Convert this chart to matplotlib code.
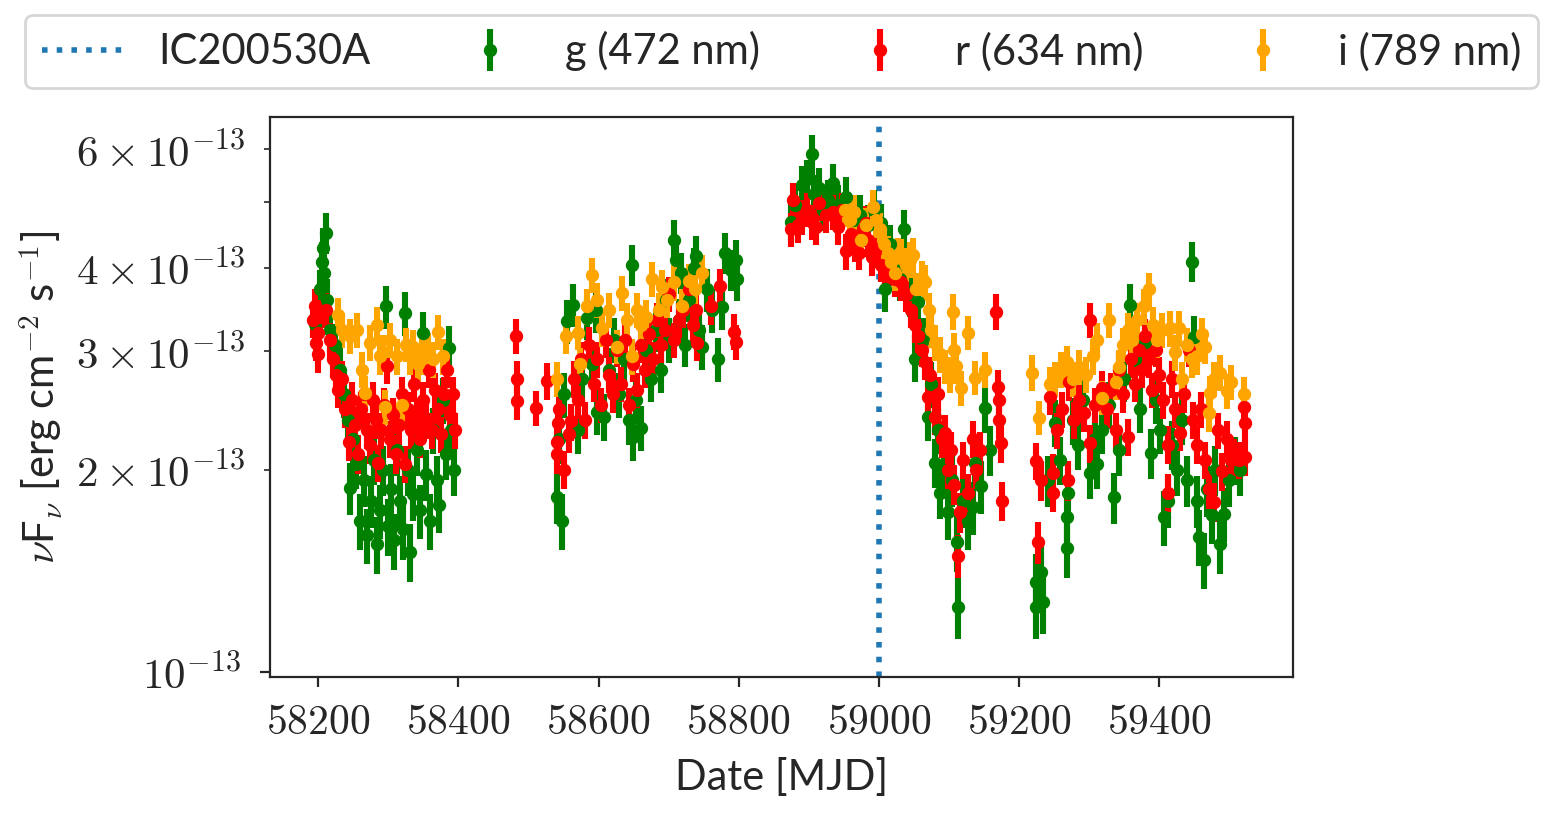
import numpy as np
import matplotlib
matplotlib.use("Agg")
import matplotlib.pyplot as plt
from matplotlib.ticker import FuncFormatter, FixedLocator
import seaborn as sns

# (MJD, nuFnu [1e-13 erg/cm2/s], error)
g_data = [
    (58196, 3.30, 0.24), (58203, 3.71, 0.26), (58206, 4.08, 0.28), (58207, 4.28, 0.30),
    (58211, 4.51, 0.32), (58208, 3.93, 0.28), (58213, 3.58, 0.26), (58217, 3.23, 0.24),
    (58224, 3.07, 0.23), (58231, 2.82, 0.22), (58236, 2.59, 0.20), (58243, 2.37, 0.19),
    (58245, 1.88, 0.17), (58250, 2.22, 0.18), (58254, 2.04, 0.17), (58260, 1.68, 0.16),
    (58265, 1.93, 0.17), (58270, 1.60, 0.15), (58275, 1.80, 0.16), (58280, 2.07, 0.17),
    (58284, 1.55, 0.15), (58288, 1.74, 0.16), (58292, 2.00, 0.17), (58297, 3.50, 0.26),
    (58300, 1.65, 0.16), (58304, 1.87, 0.17), (58308, 1.57, 0.15), (58312, 2.14, 0.18),
    (58317, 1.80, 0.16), (58321, 1.63, 0.16), (58324, 3.42, 0.26), (58328, 2.00, 0.17),
    (58331, 1.51, 0.15), (58335, 1.84, 0.16), (58341, 2.14, 0.18), (58345, 1.74, 0.16),
    (58349, 3.20, 0.24), (58354, 1.97, 0.17), (58359, 1.68, 0.16), (58364, 2.29, 0.18),
    (58369, 1.93, 0.17), (58373, 1.77, 0.16), (58378, 2.54, 0.20), (58382, 2.11, 0.18),
    (58386, 3.04, 0.23), (58390, 2.29, 0.18), (58393, 2.00, 0.17),
    (58540, 1.82, 0.16), (58548, 1.68, 0.16), (58544, 2.22, 0.18), (58551, 2.59, 0.20),
    (58555, 3.33, 0.25), (58563, 3.52, 0.26), (58570, 2.29, 0.18), (58577, 2.73, 0.21),
    (58583, 3.37, 0.25), (58590, 2.87, 0.22), (58597, 3.46, 0.26), (58598, 2.44, 0.19),
    (58608, 2.40, 0.19), (58615, 2.82, 0.22), (58622, 3.12, 0.24), (58629, 2.59, 0.20),
    (58636, 2.92, 0.22), (58644, 2.37, 0.19), (58648, 4.04, 0.28), (58649, 2.24, 0.18),
    (58654, 2.54, 0.20), (58661, 2.31, 0.18), (58668, 3.02, 0.23), (58675, 2.73, 0.21),
    (58682, 3.23, 0.24), (58689, 2.82, 0.22), (58696, 3.58, 0.26), (58700, 3.12, 0.24),
    (58708, 4.40, 0.31), (58710, 4.11, 0.29), (58715, 3.34, 0.25), (58718, 3.93, 0.28),
    (58723, 3.07, 0.23), (58729, 3.58, 0.26), (58736, 4.00, 0.28), (58739, 4.16, 0.29),
    (58743, 3.23, 0.24), (58747, 3.05, 0.23), (58755, 3.71, 0.27), (58762, 3.46, 0.26),
    (58770, 2.92, 0.22), (58776, 3.49, 0.26), (58781, 4.21, 0.30), (58789, 3.97, 0.28),
    (58796, 4.11, 0.29), (58797, 3.84, 0.27),
    (58874, 4.68, 0.32), (58881, 4.96, 0.34), (58890, 5.30, 0.36), (58898, 5.41, 0.37),
    (58904, 5.90, 0.40), (58908, 5.14, 0.35), (58914, 5.26, 0.36), (58921, 4.88, 0.34),
    (58928, 5.05, 0.35), (58935, 5.35, 0.36), (58942, 4.96, 0.34), (58953, 5.10, 0.35),
    (58963, 4.71, 0.33), (58973, 4.79, 0.33), (58985, 4.63, 0.32), (58993, 4.88, 0.34),
    (59003, 4.66, 0.32), (59009, 3.71, 0.27), (59016, 4.33, 0.30), (59023, 3.97, 0.28),
    (59030, 3.84, 0.27), (59036, 4.56, 0.32), (59045, 3.65, 0.27), (59056, 3.55, 0.26),
    (59052, 2.92, 0.22), (59063, 3.12, 0.24), (59070, 2.40, 0.19), (59074, 2.68, 0.21),
    (59080, 2.05, 0.17), (59084, 2.29, 0.18), (59087, 1.85, 0.16), (59093, 2.00, 0.17),
    (59099, 1.73, 0.16), (59104, 1.93, 0.17), (59111, 1.56, 0.15), (59113, 1.25, 0.13),
    (59120, 1.80, 0.16), (59127, 1.68, 0.16), (59134, 1.76, 0.16), (59137, 2.05, 0.17),
    (59146, 1.89, 0.17), (59151, 2.47, 0.20), (59159, 2.14, 0.18),
    (59224, 1.36, 0.14), (59225, 1.25, 0.13), (59232, 1.41, 0.14), (59234, 1.27, 0.13),
    (59241, 1.93, 0.17), (59251, 2.35, 0.19), (59258, 2.07, 0.17), (59268, 1.70, 0.16),
    (59269, 1.53, 0.15), (59270, 1.85, 0.16), (59277, 2.37, 0.19), (59284, 2.18, 0.18),
    (59292, 2.54, 0.20), (59301, 1.98, 0.17), (59308, 2.22, 0.18), (59312, 2.04, 0.17),
    (59319, 2.29, 0.18), (59328, 2.50, 0.20), (59336, 1.82, 0.16), (59343, 2.14, 0.18),
    (59350, 2.73, 0.21), (59359, 3.52, 0.26), (59366, 2.92, 0.22), (59373, 2.46, 0.19),
    (59380, 3.10, 0.24), (59388, 2.12, 0.18), (59395, 2.54, 0.20), (59402, 2.29, 0.18),
    (59407, 1.70, 0.16), (59412, 1.80, 0.16), (59419, 2.18, 0.18), (59426, 2.00, 0.17),
    (59433, 2.37, 0.19), (59440, 1.93, 0.17), (59447, 4.08, 0.28), (59450, 3.15, 0.24),
    (59454, 1.80, 0.16), (59457, 1.59, 0.15), (59464, 1.47, 0.14), (59468, 1.87, 0.17),
    (59475, 1.71, 0.16), (59480, 2.00, 0.17), (59487, 1.55, 0.15), (59493, 1.72, 0.16),
    (59500, 1.93, 0.17), (59508, 2.07, 0.17), (59515, 2.00, 0.17),
]

r_data = [
    (58193, 3.34, 0.20), (58196, 3.50, 0.21), (58197, 3.09, 0.19), (58199, 2.97, 0.18),
    (58200, 3.20, 0.19), (58203, 3.38, 0.20), (58211, 3.46, 0.21), (58217, 3.12, 0.19),
    (58221, 2.92, 0.18), (58226, 2.77, 0.17), (58228, 2.63, 0.16), (58234, 2.73, 0.17),
    (58238, 2.46, 0.15), (58244, 2.20, 0.14), (58248, 2.54, 0.16), (58253, 2.33, 0.15),
    (58257, 2.11, 0.14), (58261, 2.46, 0.15), (58265, 2.59, 0.16), (58270, 2.29, 0.14),
    (58274, 2.18, 0.14), (58278, 2.54, 0.16), (58282, 2.37, 0.15), (58285, 2.05, 0.13),
    (58290, 2.29, 0.14), (58294, 2.50, 0.15), (58298, 2.85, 0.17), (58302, 2.22, 0.14),
    (58307, 2.41, 0.15), (58311, 2.11, 0.14), (58315, 2.33, 0.15), (58319, 2.59, 0.16),
    (58324, 2.04, 0.13), (58328, 2.46, 0.15), (58332, 2.29, 0.14), (58337, 2.68, 0.16),
    (58341, 2.41, 0.15), (58345, 2.22, 0.14), (58349, 2.54, 0.16), (58354, 2.37, 0.15),
    (58358, 2.82, 0.17), (58362, 2.29, 0.14), (58366, 2.63, 0.16), (58371, 2.46, 0.15),
    (58375, 2.26, 0.14), (58379, 2.59, 0.16), (58383, 2.82, 0.17), (58388, 2.41, 0.15),
    (58392, 2.59, 0.16), (58395, 2.29, 0.14),
    (58482, 3.16, 0.19), (58483, 2.73, 0.17), (58484, 2.53, 0.16), (58511, 2.47, 0.15),
    (58526, 2.71, 0.17), (58540, 2.11, 0.14), (58541, 2.20, 0.14), (58542, 2.35, 0.15),
    (58544, 2.46, 0.15), (58551, 2.00, 0.13), (58558, 2.26, 0.14), (58561, 2.36, 0.15),
    (58565, 2.73, 0.17), (58570, 2.54, 0.16), (58575, 2.92, 0.18), (58581, 2.37, 0.15),
    (58587, 3.07, 0.19), (58593, 2.68, 0.16), (58598, 2.92, 0.18), (58604, 2.50, 0.15),
    (58610, 3.12, 0.19), (58615, 2.77, 0.17), (58621, 2.59, 0.16), (58627, 3.02, 0.18),
    (58632, 2.68, 0.16), (58638, 3.12, 0.19), (58644, 2.50, 0.15), (58649, 2.87, 0.17),
    (58655, 2.63, 0.16), (58661, 3.07, 0.19), (58666, 2.82, 0.17), (58672, 3.18, 0.19),
    (58678, 2.92, 0.18), (58684, 3.34, 0.20), (58689, 3.07, 0.19), (58695, 3.23, 0.20),
    (58701, 3.65, 0.22), (58708, 3.12, 0.19), (58715, 3.34, 0.20), (58721, 3.46, 0.21),
    (58729, 3.71, 0.22), (58735, 3.29, 0.20), (58739, 3.46, 0.21), (58740, 3.09, 0.19),
    (58760, 3.50, 0.21), (58774, 3.75, 0.23), (58793, 3.21, 0.20), (58796, 3.10, 0.19),
    (58874, 4.56, 0.27), (58878, 5.05, 0.30), (58885, 4.63, 0.28), (58890, 4.76, 0.29),
    (58897, 4.88, 0.29), (58904, 4.68, 0.28), (58911, 4.60, 0.28), (58914, 4.99, 0.30),
    (58925, 4.79, 0.29), (58935, 4.84, 0.29), (58942, 4.60, 0.28), (58948, 4.88, 0.29),
    (58953, 4.23, 0.26), (58960, 4.48, 0.27), (58966, 4.33, 0.26), (58971, 4.21, 0.25),
    (58977, 4.56, 0.27), (58981, 4.66, 0.28), (58985, 4.40, 0.26), (58990, 4.14, 0.25),
    (58997, 4.26, 0.26), (59003, 4.04, 0.24), (59009, 3.93, 0.24), (59016, 4.00, 0.24),
    (59023, 3.84, 0.23), (59032, 3.80, 0.23), (59039, 3.65, 0.22), (59046, 3.46, 0.21),
    (59052, 3.29, 0.20), (59056, 3.16, 0.19), (59062, 3.02, 0.18), (59066, 2.89, 0.17),
    (59070, 2.57, 0.16), (59073, 2.77, 0.17), (59080, 2.40, 0.15), (59084, 2.59, 0.16),
    (59090, 2.22, 0.14), (59094, 2.27, 0.14), (59099, 2.00, 0.13), (59103, 2.14, 0.14),
    (59107, 1.90, 0.13), (59113, 1.49, 0.11), (59116, 1.73, 0.12), (59120, 2.07, 0.13),
    (59127, 1.85, 0.12), (59134, 2.22, 0.14), (59139, 2.00, 0.13), (59144, 2.14, 0.14),
    (59167, 3.44, 0.21), (59170, 2.66, 0.16), (59171, 2.54, 0.16), (59172, 2.37, 0.15),
    (59174, 2.19, 0.14), (59176, 1.80, 0.12),
    (59224, 2.06, 0.13), (59227, 1.56, 0.11), (59231, 1.93, 0.13), (59245, 2.57, 0.16),
    (59248, 1.98, 0.13), (59249, 1.85, 0.12), (59255, 2.29, 0.14), (59262, 2.46, 0.15),
    (59270, 1.93, 0.13), (59272, 2.70, 0.17), (59279, 2.37, 0.15), (59286, 2.54, 0.16),
    (59293, 2.43, 0.15), (59301, 3.34, 0.20), (59302, 2.19, 0.14), (59309, 2.50, 0.15),
    (59319, 2.65, 0.16), (59326, 2.46, 0.15), (59332, 2.63, 0.16), (59338, 2.29, 0.14),
    (59343, 2.82, 0.17), (59349, 2.59, 0.16), (59355, 2.24, 0.14), (59360, 2.92, 0.18),
    (59366, 2.68, 0.16), (59372, 3.02, 0.18), (59376, 2.82, 0.17), (59380, 3.16, 0.19),
    (59386, 2.92, 0.18), (59390, 2.63, 0.16), (59395, 3.02, 0.18), (59400, 2.77, 0.17),
    (59406, 2.54, 0.16), (59412, 2.18, 0.14), (59413, 1.85, 0.12), (59418, 2.73, 0.17),
    (59423, 2.46, 0.15), (59430, 2.27, 0.14), (59436, 2.59, 0.16), (59443, 3.02, 0.18),
    (59449, 2.37, 0.15), (59454, 2.18, 0.14), (59460, 2.46, 0.15), (59466, 2.07, 0.13),
    (59471, 1.87, 0.12), (59478, 1.79, 0.12), (59484, 2.29, 0.14), (59490, 1.99, 0.13),
    (59497, 2.22, 0.14), (59503, 2.07, 0.13), (59507, 2.09, 0.13), (59514, 2.07, 0.13),
    (59521, 2.48, 0.15), (59522, 2.35, 0.15), (59523, 2.09, 0.13),
]

i_data = [
    (58228, 3.40, 0.20), (58234, 3.23, 0.19), (58245, 3.16, 0.19), (58255, 3.23, 0.19),
    (58263, 2.82, 0.17), (58267, 2.60, 0.16), (58274, 3.09, 0.19), (58284, 3.29, 0.20),
    (58288, 2.95, 0.18), (58292, 2.99, 0.18), (58295, 2.48, 0.15), (58302, 3.12, 0.19),
    (58312, 2.95, 0.18), (58319, 2.50, 0.15), (58325, 3.07, 0.18), (58331, 2.95, 0.18),
    (58335, 3.05, 0.18), (58342, 2.87, 0.17), (58348, 2.95, 0.18), (58356, 3.02, 0.18),
    (58364, 2.92, 0.18), (58371, 3.21, 0.19), (58378, 2.95, 0.18),
    (58541, 2.73, 0.16), (58554, 3.16, 0.19), (58570, 3.20, 0.19), (58573, 2.87, 0.17),
    (58583, 3.50, 0.21), (58591, 3.90, 0.23), (58598, 3.58, 0.21), (58605, 3.25, 0.20),
    (58615, 3.46, 0.21), (58627, 3.05, 0.18), (58634, 3.67, 0.22), (58641, 3.34, 0.20),
    (58648, 2.95, 0.18), (58655, 3.46, 0.21), (58661, 3.29, 0.20), (58668, 3.38, 0.20),
    (58676, 3.84, 0.23), (58686, 3.46, 0.21), (58691, 3.74, 0.22), (58698, 3.58, 0.21),
    (58708, 3.80, 0.23), (58719, 3.50, 0.21), (58729, 3.82, 0.23), (58737, 3.71, 0.22),
    (58747, 3.93, 0.24),
    (58952, 4.88, 0.29), (58959, 4.71, 0.28), (58964, 4.84, 0.29), (58975, 4.40, 0.26),
    (58982, 4.63, 0.28), (58992, 4.92, 0.30), (58996, 4.71, 0.28), (59002, 4.56, 0.27),
    (59008, 4.33, 0.26), (59013, 4.20, 0.25), (59018, 4.08, 0.24), (59023, 3.93, 0.24),
    (59028, 4.18, 0.25), (59032, 4.16, 0.25), (59039, 4.04, 0.24), (59045, 4.11, 0.25),
    (59049, 4.18, 0.25), (59053, 3.71, 0.22), (59062, 3.86, 0.23), (59066, 3.80, 0.23),
    (59072, 3.46, 0.21), (59074, 3.23, 0.19), (59080, 3.09, 0.19), (59087, 2.97, 0.18),
    (59094, 2.85, 0.17), (59102, 2.77, 0.17), (59106, 3.44, 0.21), (59107, 3.02, 0.18),
    (59110, 2.85, 0.17), (59117, 2.65, 0.16), (59127, 3.20, 0.19), (59137, 2.74, 0.16),
    (59151, 2.82, 0.17),
    (59218, 2.79, 0.17), (59228, 2.39, 0.14), (59244, 2.68, 0.16), (59251, 2.73, 0.16),
    (59260, 2.82, 0.17), (59268, 2.89, 0.17), (59277, 2.73, 0.16), (59286, 2.84, 0.17),
    (59296, 2.77, 0.17), (59305, 2.95, 0.18), (59312, 3.12, 0.19), (59319, 2.56, 0.15),
    (59328, 3.34, 0.20), (59338, 2.70, 0.16), (59343, 2.84, 0.17), (59349, 3.07, 0.18),
    (59355, 3.23, 0.19), (59362, 3.12, 0.19), (59369, 3.34, 0.20), (59379, 3.50, 0.21),
    (59386, 3.71, 0.22), (59392, 3.29, 0.20), (59397, 3.12, 0.19), (59404, 3.23, 0.19),
    (59415, 3.25, 0.20), (59422, 2.99, 0.18), (59429, 3.25, 0.20), (59433, 2.73, 0.16),
    (59440, 3.07, 0.18), (59447, 2.92, 0.18), (59454, 2.95, 0.18), (59461, 3.18, 0.19),
    (59465, 3.05, 0.18), (59472, 2.60, 0.16), (59471, 2.43, 0.15), (59479, 2.73, 0.16),
    (59487, 2.79, 0.17), (59497, 2.62, 0.16), (59503, 2.70, 0.16), (59521, 2.59, 0.16),
]

nu_alert = 59000
xticks = [58200, 58400, 58600, 58800, 59000, 59200, 59400]
y_major = [1e-13]
y_minor = [2e-13, 3e-13, 4e-13, 5e-13, 6e-13]
labelled_subs = [2, 3, 4, 6]
bands = [
    ("g (472 nm)", "green", g_data),
    ("r (634 nm)", "red", r_data),
    ("i (789 nm)", "orange", i_data),
]

sns.set_style("ticks")
plt.rcParams["font.family"] = ["Lato", "DejaVu Sans"]
plt.rcParams["mathtext.fontset"] = "cm"
plt.rcParams["font.size"] = 15


def xfmt(v, pos):
    return r"$%d$" % int(round(v))


def yfmt(v, pos):
    if v <= 0:
        return ""
    e = int(np.floor(np.log10(v) + 1e-9))
    m = v / 10.0 ** e
    mi = int(round(m))
    if abs(m - mi) > 1e-6:
        return ""
    if mi == 1:
        return r"$10^{%d}$" % e
    if mi in labelled_subs:
        return r"$%d\times10^{%d}$" % (mi, e)
    return ""


fig = plt.figure(figsize=(7.77, 4.08), dpi=200)
ax = fig.add_axes([0.1737, 0.1703, 0.6583, 0.6863])

handles = []
vl = ax.axvline(nu_alert, ls=":", color="tab:blue", lw=2.0, label="IC200530A")
handles.append(vl)
for name, col, data in bands:
    arr = np.array(data)
    h = ax.errorbar(arr[:, 0], arr[:, 1] * 1e-13, yerr=arr[:, 2] * 1e-13,
                    fmt="o", color=col, ms=3.8, elinewidth=2.2, capsize=0,
                    label=name)
    handles.append(h)

ax.set_yscale("log")
ax.set_xlim(58131, 59591)
ax.set_ylim(0.983e-13, 6.7e-13)
ax.set_xticks(xticks)
ax.xaxis.set_major_formatter(FuncFormatter(xfmt))
ax.yaxis.set_major_locator(FixedLocator(y_major))
ax.yaxis.set_minor_locator(FixedLocator(y_minor))
ax.yaxis.set_major_formatter(FuncFormatter(yfmt))
ax.yaxis.set_minor_formatter(FuncFormatter(yfmt))
ax.tick_params(axis="y", which="both", labelsize=15.5, pad=7)
ax.tick_params(axis="x", labelsize=15, pad=6)
ax.set_xlabel("Date [MJD]", fontsize=15, labelpad=6)
ax.set_ylabel(r"$\nu$F$_\nu$ [erg cm$^{-2}$ s$^{-1}$]", fontsize=15)

fig.legend(handles=handles, loc="lower left",
           bbox_to_anchor=(0.016, 0.892, 0.974, 0.092), mode="expand",
           ncol=4, borderaxespad=0, fontsize=15, handlelength=2.0,
           handletextpad=0.8)

fig.savefig("out.png", dpi=200)
